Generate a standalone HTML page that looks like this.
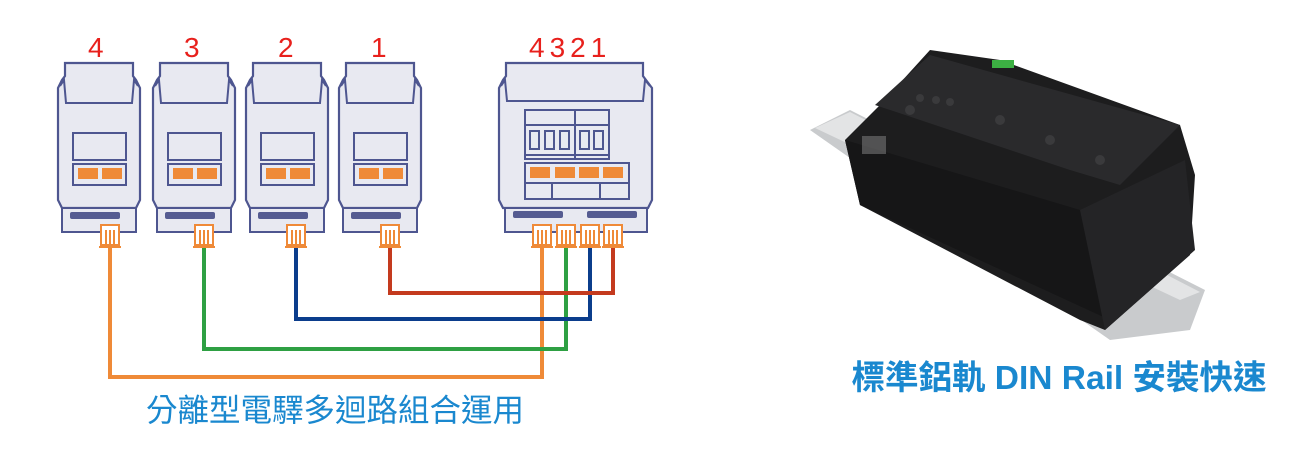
<!DOCTYPE html>
<html><head><meta charset="utf-8"><style>
body{margin:0;background:#fff;width:1305px;height:463px;overflow:hidden}
svg{display:block}
.t{font-family:"Liberation Sans",sans-serif;fill:#e8201c;font-size:28px}
</style></head><body>
<svg width="1305" height="463" viewBox="0 0 1305 463">
<defs>
<g id="m">
 <path d="M7,63 H75 V76 L78,80 L82,88 V200 L78,208 H4 L0,200 V88 L4,80 L7,76 Z" fill="#e8e9f1" stroke="#4e5690" stroke-width="2.2"/>
 <path d="M2,86 L6,80 L8,103 H74 L76,80 L80,86" fill="none" stroke="#4e5690" stroke-width="2"/>
 <rect x="4" y="208" width="74" height="24" fill="#e8e9f1" stroke="#4e5690" stroke-width="2"/>
 <rect x="12" y="212" width="50" height="7" rx="2" fill="#555b91"/>
 <rect x="15" y="133" width="53" height="27" fill="#e8e9f1" stroke="#4e5690" stroke-width="2"/>
 <rect x="15" y="164" width="53" height="21" fill="#e8e9f1" stroke="#4e5690" stroke-width="2"/>
 <rect x="20" y="168" width="20" height="11" fill="#ef8a38"/><rect x="44" y="168" width="20" height="11" fill="#ef8a38"/>
</g>
<g id="c">
 <rect x="-9" y="225" width="18" height="20" fill="#fff" stroke="#ef8a38" stroke-width="2"/>
 <path d="M-4,230 V245 M0,230 V245 M4,230 V245 M-11,247 H11" stroke="#ef8a38" stroke-width="2"/>
</g>
</defs>
<text class="t" x="88" y="57">4</text>
<text class="t" x="184" y="57">3</text>
<text class="t" x="278" y="57">2</text>
<text class="t" x="371" y="57">1</text>
<text class="t" x="529" y="57" letter-spacing="5">4321</text>
<g fill="none" stroke-width="4">
<path d="M110,248 V377 H542 V248" stroke="#ef8a38"/>
<path d="M204,248 V349 H566 V248" stroke="#2ea043"/>
<path d="M296,248 V319 H590 V248" stroke="#0b3d8c"/>
<path d="M390,248 V293 H613 V248" stroke="#c43a1e"/>
</g>
<use href="#m" x="58"/><use href="#c" x="110"/>
<use href="#m" x="153"/><use href="#c" x="204"/>
<use href="#m" x="246"/><use href="#c" x="296"/>
<use href="#m" x="339"/><use href="#c" x="390"/>
<path d="M506,63 H643 V76 L646,80 L652,88 V200 L648,208 H503 L499,200 V88 L503,80 L506,76 Z" fill="#e8e9f1" stroke="#4e5690" stroke-width="2.2"/>
<path d="M501,86 L505,80 L507,101 H643 L645,80 L650,86" fill="none" stroke="#4e5690" stroke-width="2"/>
<rect x="505" y="208" width="142" height="24" fill="#e8e9f1" stroke="#4e5690" stroke-width="2"/>
<rect x="513" y="211" width="50" height="7" rx="2" fill="#555b91"/><rect x="587" y="211" width="50" height="7" rx="2" fill="#555b91"/>
<rect x="525" y="110" width="84" height="49" fill="#e8e9f1" stroke="#4e5690" stroke-width="2"/>
<path d="M525,125 H609 M575,110 V159 M525,155 H609" stroke="#4e5690" stroke-width="2"/>
<g fill="none" stroke="#4e5690" stroke-width="2"><rect x="530" y="131" width="9" height="18"/><rect x="545" y="131" width="9" height="18"/><rect x="560" y="131" width="9" height="18"/><rect x="580" y="131" width="9" height="18"/><rect x="594" y="131" width="9" height="18"/></g>
<rect x="525" y="163" width="104" height="36" fill="#e8e9f1" stroke="#4e5690" stroke-width="2"/>
<path d="M525,183 H629 M552,183 V199 M600,183 V199" stroke="#4e5690" stroke-width="2"/>
<g fill="#ef8a38"><rect x="530" y="167" width="20" height="11"/><rect x="555" y="167" width="20" height="11"/><rect x="579" y="167" width="20" height="11"/><rect x="603" y="167" width="20" height="11"/></g>
<use href="#c" x="542"/><use href="#c" x="566"/><use href="#c" x="590"/><use href="#c" x="613"/>
<text x="335" y="421" text-anchor="middle" font-family="'Liberation Sans','Noto Sans CJK TC',sans-serif" font-size="31.5" fill="#1a88cf">分離型電驛多迴路組合運用</text>
<polygon points="810,130 850,110 1205,290 1190,330 1110,340" fill="#c9cbcd"/>
<polygon points="815,128 850,112 1200,292 1180,300" fill="#e3e4e5"/>
<polygon points="930,50 1000,60 1180,125 1195,175 1190,255 1105,330 1080,320 860,205 845,140 880,105" fill="#1d1d1e"/>
<polygon points="875,105 930,55 1180,125 1120,185 1070,170" fill="#2a2a2c"/>
<polygon points="845,140 1080,210 1110,320 860,205" fill="#161617"/>
<polygon points="1080,210 1185,160 1195,250 1105,330" fill="#242426"/>
<g fill="#3a3a3c"><circle cx="910" cy="110" r="5"/><circle cx="920" cy="98" r="4"/><circle cx="936" cy="100" r="4"/><circle cx="950" cy="102" r="4"/><circle cx="1000" cy="120" r="5"/><circle cx="1050" cy="140" r="5"/><circle cx="1100" cy="160" r="5"/></g>
<rect x="992" y="60" width="22" height="8" fill="#3cb043"/>
<rect x="862" y="136" width="24" height="18" fill="#777" opacity=".6"/>
<text x="1059" y="389" text-anchor="middle" font-family="'Liberation Sans','Noto Sans CJK TC',sans-serif" font-size="33.5" font-weight="bold" fill="#1a88cf">標準鋁軌 DIN Rail 安裝快速</text>
</svg>
</body></html>
